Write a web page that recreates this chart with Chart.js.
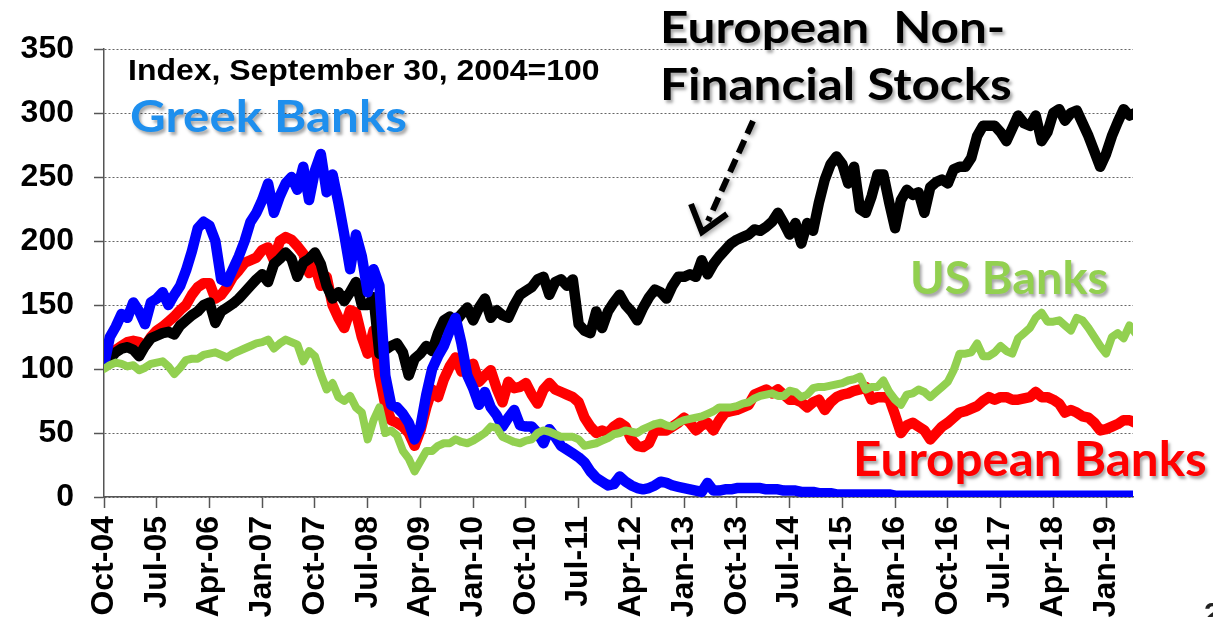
<!DOCTYPE html>
<html>
<head>
<meta charset="utf-8">
<script src="https://cdn.jsdelivr.net/npm/chart.js@4.4.1/dist/chart.umd.min.js"></script>
<style>
  html, body { margin: 0; padding: 0; background: #fff; overflow: hidden; }
  #wrap { position: relative; width: 1213px; height: 617px; overflow: hidden; }
  #chart { position: absolute; left: 0; top: 0; }
  .note { position: absolute; white-space: pre; line-height: 1; font-weight: bold; transform-origin: 0 0; }
  .callout { font-family: Lato, "Open Sans", sans-serif; text-shadow: 2px 3px 3px rgba(0,0,0,0.35); }
  #indexNote { left: 128px; top: 53px; font: bold 30px "Liberation Sans", Arial, sans-serif; color: #000; transform: scaleX(1.065); }
  #greek { left: 130px; top: 93px; font-size: 44px; color: #1e8fee; transform: scaleX(1.12); }
  #nonfin { left: 660px; top: -2px; font-size: 43px; line-height: 57px; color: #000; transform: scaleX(1.15); }
  #us { left: 910px; top: 255px; font-size: 45px; color: #92d050; transform: scaleX(1.04); }
  #eub { left: 853px; top: 435px; font-size: 47px; color: #ff0000; transform: scaleX(1.05); }
  #page { left: 1204px; top: 596px; font: bold 30px "Liberation Sans", Arial, sans-serif; color: #222; }
  #arrow { position: absolute; left: 0; top: 0; filter: drop-shadow(2px 2px 2px rgba(0,0,0,0.35)); }
</style>
</head>
<body>
<div id="wrap">
  <canvas id="chart" width="1213" height="617"></canvas>
  <div class="note" id="indexNote">Index, September 30, 2004=100</div>
  <div class="note callout" id="greek">Greek Banks</div>
  <div class="note callout" id="nonfin">European  Non-
Financial Stocks</div>
  <div class="note callout" id="us">US Banks</div>
  <div class="note callout" id="eub">European Banks</div>
  <div class="note" id="page">2</div>
  <svg id="arrow" width="1213" height="617">
    <g stroke="#000" stroke-width="6" fill="none">
      <line x1="753" y1="121" x2="708" y2="221" stroke-dasharray="14 7"/>
      <polyline points="691,204 702,232 727,214"/>
    </g>
  </svg>
</div>
<script>
// x = months since 30 Sep 2004 (one value per month)
const tickLabels = ['Oct-04', 'Jul-05', 'Apr-06', 'Jan-07', 'Oct-07', 'Jul-08', 'Apr-09', 'Jan-10',
  'Oct-10', 'Jul-11', 'Apr-12', 'Jan-13', 'Oct-13', 'Jul-14', 'Apr-15', 'Jan-16', 'Oct-16',
  'Jul-17', 'Apr-18', 'Jan-19'];
const tickStep = 9;

const greekBanks = [
  103, 125, 133, 143, 140, 152, 145, 135, 152, 155,
  160, 150, 158, 165, 177, 192, 210, 215, 212, 200,
  170, 168, 178, 188, 200, 215, 222, 232, 245, 222,
  235, 245, 250, 240, 258, 232, 255, 268, 238, 252,
  230, 205, 178, 205, 188, 160, 178, 165, 95, 72,
  70, 65, 58, 45, 55, 80, 100, 110, 118, 130,
  140, 120, 95, 85, 72, 82, 70, 64, 55, 62,
  68, 56, 55, 55, 50, 42, 53, 47, 40, 37,
  34, 31, 27, 20, 15, 12, 9, 10, 16, 12,
  9, 7, 6, 7, 9, 12, 11, 9, 8, 7,
  6, 5, 4, 11, 5, 5, 6, 6, 7, 7,
  7, 7, 7, 6, 6, 6, 5, 5, 5, 4,
  4, 4, 3, 3, 3, 2, 2, 2, 2, 2,
  2, 2, 2, 2, 2, 1, 1, 1, 1, 1,
  1, 1, 1, 1, 1, 1, 1, 1, 1, 1,
  1, 1, 1, 1, 1, 1, 1, 1, 1, 1,
  1, 1, 1, 1, 1, 1, 1, 1, 1, 1,
  1, 1, 1, 1, 1, 1, 1
];

const euNonFinancial = [
  103, 108, 113, 116, 117, 115, 110, 118, 124, 126,
  128, 129, 127, 134, 138, 142, 145, 150, 152, 136,
  145, 148, 151, 155, 160, 165, 170, 174, 168, 182,
  186, 191, 186, 172, 183, 186, 191, 182, 165, 155,
  160, 153, 160, 168, 150, 150, 156, 112, 115, 118,
  120, 113, 95, 108, 112, 118, 114, 128, 138, 141,
  137, 143, 148, 138, 148, 155, 140, 146, 142, 140,
  150, 158, 161, 164, 170, 172, 158, 168, 170, 165,
  170, 135, 130, 128, 145, 132, 145, 152, 158, 150,
  145, 138, 148, 156, 162, 160, 155, 165, 172, 172,
  174, 172, 185, 174, 182, 188, 193, 198, 201, 203,
  205, 209, 208, 211, 215, 222, 214, 205, 214, 198,
  214, 208, 230, 248, 260, 266, 260, 245, 258, 225,
  222, 235, 252, 252, 230, 210, 232, 240, 236, 238,
  222, 242, 246, 248, 245, 256, 258, 258, 265, 282,
  290, 290, 290, 285, 278, 288, 298, 292, 290, 298,
  278, 285, 300, 303, 294, 300, 302, 292, 282, 270,
  258, 268, 282, 293, 303, 298, 300
];

const euBanks = [
  103, 110, 115, 118, 121, 122, 121, 118, 125, 130,
  133, 137, 141, 146, 150, 158, 164, 167, 167, 155,
  158, 164, 172, 177, 183, 185, 187, 193, 195, 185,
  200, 203, 201, 196, 190, 175, 180, 165, 172, 150,
  140, 132, 146, 144, 125, 112, 130, 95, 72, 60,
  58, 55, 50, 40, 52, 70, 84, 78, 92, 102,
  109, 98, 102, 104, 90, 95, 99, 85, 74, 90,
  85, 86, 89, 80, 73, 84, 89, 84, 82, 80,
  78, 74, 62, 55, 50, 52, 50, 55, 58, 55,
  45, 40, 39, 42, 52, 52, 52, 55, 58, 62,
  58, 52, 56, 58, 52, 60, 66, 67, 68, 70,
  72, 80, 82, 84, 81, 84, 80, 76, 76, 74,
  70, 74, 76, 68, 74, 78, 80, 81, 83, 84,
  86, 76, 78, 78, 77, 64, 50, 56, 58, 55,
  52, 45, 50, 55, 58, 62, 66, 67, 69, 71,
  75, 78, 76, 78, 78, 76, 76, 77, 78, 82,
  78, 78, 76, 73, 66, 68, 66, 63, 62, 58,
  52, 53, 55, 57, 60, 60, 58
];

const usBanks = [
  100, 103, 105, 104, 102, 103, 99, 101, 104, 105,
  106, 102, 96, 101, 107, 108, 108, 111, 112, 113,
  111, 109, 112, 114, 116, 118, 120, 121, 123, 116,
  120, 123, 121, 119, 106, 114, 110, 96, 84, 89,
  78, 75, 79, 70, 66, 45, 60, 70, 50, 52,
  48, 36, 30, 20, 28, 36, 36, 40, 42, 42,
  45, 43, 42, 44, 47, 50, 55, 54, 47, 45,
  43, 42, 44, 45, 50, 52, 51, 49, 47, 47,
  47, 45, 40, 41, 42, 44, 46, 49, 50, 52,
  51, 50, 53, 55, 57, 58, 56, 55, 58, 60,
  61, 62, 63, 65, 67, 70, 70, 70, 71, 73,
  74, 77, 79, 80, 81, 79, 79, 83, 82, 78,
  80, 85, 86, 86, 87, 88, 89, 91, 92, 94,
  84, 86, 86, 91, 82, 76, 72, 80, 81, 84,
  82, 78, 82, 86, 90, 99, 112, 112, 113, 120,
  110, 110, 113, 118, 114, 112, 124, 128, 132, 140,
  144, 137, 137, 138, 134, 130, 140, 138, 132, 125,
  118, 112, 125, 128, 124, 134, 128
];

const toPoints = arr => arr.map((v, i) => ({ x: i, y: v }));
const tickFont = { family: 'Liberation Sans', weight: 'bold', size: 32 };

new Chart(document.getElementById('chart'), {
  type: 'line',
  data: {
    datasets: [
      { label: 'US Banks', data: toPoints(usBanks), borderColor: '#92d050', borderWidth: 8 },
      { label: 'Greek Banks', data: toPoints(greekBanks), borderColor: '#0000ff', borderWidth: 10.5 },
      { label: 'European Non-Financial Stocks', data: toPoints(euNonFinancial), borderColor: '#000000', borderWidth: 10.5 },
      { label: 'European Banks', data: toPoints(euBanks), borderColor: '#ff0000', borderWidth: 10.5 }
    ]
  },
  options: {
    responsive: false,
    animation: false,
    devicePixelRatio: 1,
    layout: { padding: { top: 49, right: 80, left: 0, bottom: 0 } },
    plugins: { legend: { display: false }, tooltip: { enabled: false } },
    elements: {
      point: { radius: 0 },
      line: { tension: 0, borderJoinStyle: 'round', borderCapStyle: 'round', fill: false }
    },
    scales: {
      x: {
        type: 'linear',
        min: 0,
        max: 175.6,
        afterBuildTicks: s => { s.ticks = tickLabels.map((t, i) => ({ value: i * tickStep })); },
        afterFit: s => { s.height = 120; },
        grid: { drawOnChartArea: false, drawTicks: true, tickLength: 11, tickColor: '#555', tickWidth: 1.5, tickBorderDash: [] },
        border: { color: '#555', width: 1.5 },
        ticks: {
          autoSkip: false, minRotation: 90, maxRotation: 90, padding: 8,
          color: '#000', font: tickFont,
          callback: (v, i) => tickLabels[i]
        }
      },
      y: {
        min: 0,
        max: 350,
        afterFit: s => { s.width = 104; },
        grid: { color: '#666', lineWidth: 1, tickLength: 10, tickColor: '#555', tickWidth: 1.5, tickBorderDash: [] },
        border: { color: '#555', width: 1.5, dash: [2, 2] },
        ticks: { stepSize: 50, padding: 20, color: '#000', font: tickFont }
      }
    }
  }
});
</script>
</body>
</html>
